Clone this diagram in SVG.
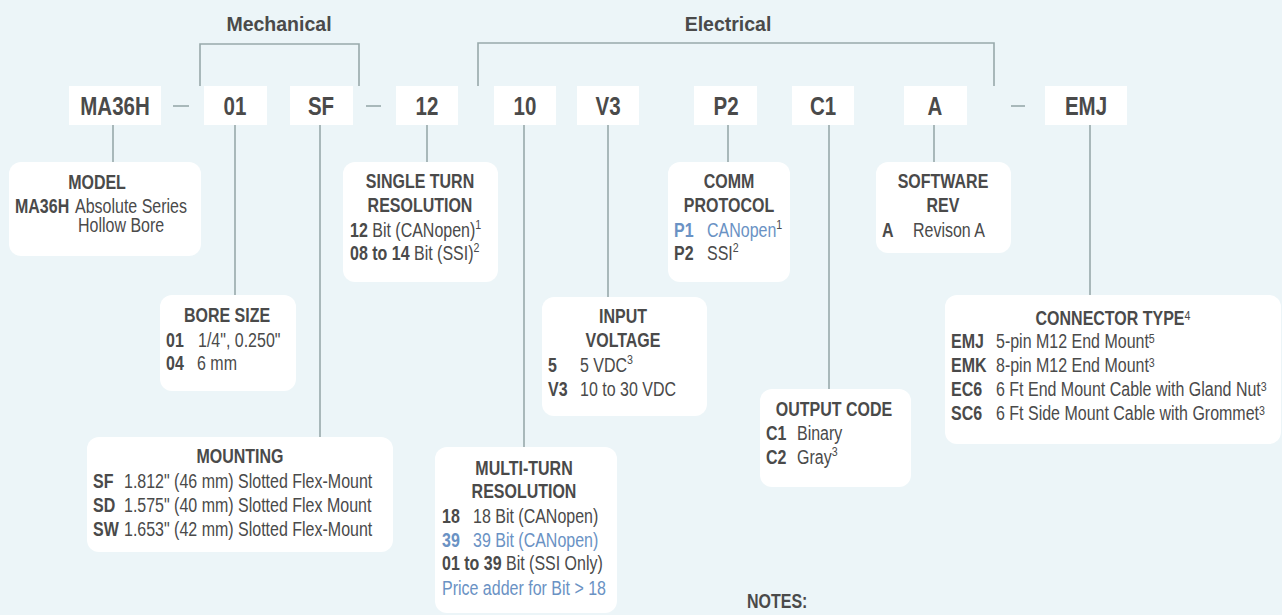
<svg xmlns="http://www.w3.org/2000/svg" width="1282" height="615" viewBox="0 0 1282 615">
<style>
text{font-family:"Liberation Sans",Arial,sans-serif;fill:#4a4a4a;font-size:19.5px}
.b{font-weight:bold}
.t{font-weight:bold;text-anchor:middle}
.code{font-weight:bold;font-size:25px;text-anchor:middle}
.sec{font-weight:bold;font-size:19.5px;text-anchor:middle}
.blue{fill:#6a92c4}
.sup{font-size:13px}
.box{fill:#ffffff}
.cbox{fill:#ffffff}
.ln{stroke:#98a9aa;stroke-width:1.6;fill:none}
</style>
<rect x="0" y="0" width="1282" height="615" fill="#ecf5f8"/>

<g id="connectors" class="ln">
  <polyline points="200,86 200,44 359,44 359,86"/>
  <polyline points="478,86 478,43 994,43 994,86"/>
  <line x1="173" y1="106" x2="189" y2="106"/>
  <line x1="366" y1="106" x2="381" y2="106"/>
  <line x1="1011" y1="106" x2="1025" y2="106"/>
  <line x1="113" y1="125" x2="113" y2="162"/>
  <line x1="235" y1="125" x2="235" y2="295"/>
  <line x1="320" y1="125" x2="320" y2="437"/>
  <line x1="427" y1="125" x2="427" y2="162"/>
  <line x1="524" y1="125" x2="524" y2="447"/>
  <line x1="608" y1="125" x2="608" y2="297"/>
  <line x1="728" y1="125" x2="728" y2="162"/>
  <line x1="829" y1="125" x2="829" y2="389"/>
  <line x1="934" y1="125" x2="934" y2="162"/>
  <line x1="1090" y1="125" x2="1090" y2="295"/>
</g>

<g id="labels">
  <text class="sec" x="279" y="31">Mechanical</text>
  <text class="sec" x="728" y="31">Electrical</text>
</g>

<g id="codes">
  <g id="code-ma36h"><rect class="cbox" x="69" y="86" width="92" height="39"/><text class="code" transform="translate(115,115) scale(.82,1)">MA36H</text></g>
  <g id="code-01"><rect class="cbox" x="204" y="86" width="63" height="39"/><text class="code" transform="translate(235,115) scale(.82,1)">01</text></g>
  <g id="code-sf"><rect class="cbox" x="290" y="86" width="63" height="39"/><text class="code" transform="translate(321,115) scale(.82,1)">SF</text></g>
  <g id="code-12"><rect class="cbox" x="396" y="86" width="62" height="39"/><text class="code" transform="translate(427,115) scale(.82,1)">12</text></g>
  <g id="code-10"><rect class="cbox" x="494" y="86" width="62" height="39"/><text class="code" transform="translate(525,115) scale(.82,1)">10</text></g>
  <g id="code-v3"><rect class="cbox" x="577" y="86" width="62" height="39"/><text class="code" transform="translate(608,115) scale(.82,1)">V3</text></g>
  <g id="code-p2"><rect class="cbox" x="694" y="86" width="63" height="39"/><text class="code" transform="translate(726,115) scale(.82,1)">P2</text></g>
  <g id="code-c1"><rect class="cbox" x="792" y="86" width="62" height="39"/><text class="code" transform="translate(823,115) scale(.82,1)">C1</text></g>
  <g id="code-a"><rect class="cbox" x="904" y="86" width="63" height="39"/><text class="code" transform="translate(935,115) scale(.82,1)">A</text></g>
  <g id="code-emj"><rect class="cbox" x="1045" y="86" width="82" height="39"/><text class="code" transform="translate(1086,115) scale(.82,1)">EMJ</text></g>
</g>

<g id="model">
  <rect class="box" x="9" y="162" width="192" height="94" rx="12"/>
  <text class="t" transform="translate(97,189) scale(.82,1)">MODEL</text>
  <text class="b" transform="translate(15,213) scale(.82,1)">MA36H</text>
  <text transform="translate(75,213) scale(.82,1)">Absolute Series</text>
  <text transform="translate(78,232) scale(.82,1)">Hollow Bore</text>
</g>

<g id="bore-size">
  <rect class="box" x="160" y="295" width="136" height="96" rx="12"/>
  <text class="t" transform="translate(227,322) scale(.82,1)">BORE SIZE</text>
  <text class="b" transform="translate(166,347) scale(.82,1)">01</text><text transform="translate(198,347) scale(.82,1)">1/4", 0.250"</text>
  <text class="b" transform="translate(166,370) scale(.82,1)">04</text><text transform="translate(197,370) scale(.82,1)">6 mm</text>
</g>

<g id="mounting">
  <rect class="box" x="87" y="437" width="306" height="115" rx="12"/>
  <text class="t" transform="translate(240,463) scale(.82,1)">MOUNTING</text>
  <text class="b" transform="translate(93,488) scale(.82,1)">SF</text><text transform="translate(124,488) scale(.82,1)">1.812" (46 mm) Slotted Flex-Mount</text>
  <text class="b" transform="translate(93,512) scale(.82,1)">SD</text><text transform="translate(124,512) scale(.82,1)">1.575" (40 mm) Slotted Flex Mount</text>
  <text class="b" transform="translate(93,536) scale(.82,1)">SW</text><text transform="translate(124,536) scale(.82,1)">1.653" (42 mm) Slotted Flex-Mount</text>
</g>

<g id="single-turn">
  <rect class="box" x="343" y="162" width="155" height="120" rx="12"/>
  <text class="t" transform="translate(420,188) scale(.82,1)">SINGLE TURN</text>
  <text class="t" transform="translate(420,212) scale(.82,1)">RESOLUTION</text>
  <text transform="translate(350,237) scale(.82,1)"><tspan class="b">12</tspan> Bit (CANopen)<tspan class="sup" dy="-8">1</tspan></text>
  <text transform="translate(350,260) scale(.82,1)"><tspan class="b">08 to 14</tspan> Bit (SSI)<tspan class="sup" dy="-8">2</tspan></text>
</g>

<g id="multi-turn">
  <rect class="box" x="435" y="447" width="182" height="166" rx="12"/>
  <text class="t" transform="translate(524,475) scale(.82,1)">MULTI-TURN</text>
  <text class="t" transform="translate(524,498) scale(.82,1)">RESOLUTION</text>
  <text class="b" transform="translate(442,523) scale(.82,1)">18</text><text transform="translate(473,523) scale(.82,1)">18 Bit (CANopen)</text>
  <text class="b blue" transform="translate(442,547) scale(.82,1)">39</text><text class="blue" transform="translate(473,547) scale(.82,1)">39 Bit (CANopen)</text>
  <text transform="translate(442,570) scale(.82,1)"><tspan class="b">01 to 39</tspan> Bit (SSI Only)</text>
  <text class="blue" transform="translate(442,595) scale(.82,1)">Price adder for Bit &gt; 18</text>
</g>

<g id="input-voltage">
  <rect class="box" x="542" y="297" width="165" height="119" rx="12"/>
  <text class="t" transform="translate(623,323) scale(.82,1)">INPUT</text>
  <text class="t" transform="translate(623,347) scale(.82,1)">VOLTAGE</text>
  <text class="b" transform="translate(548,372) scale(.82,1)">5</text><text transform="translate(580,372) scale(.82,1)">5 VDC<tspan class="sup" dy="-8">3</tspan></text>
  <text class="b" transform="translate(548,396) scale(.82,1)">V3</text><text transform="translate(580,396) scale(.82,1)">10 to 30 VDC</text>
</g>

<g id="comm-protocol">
  <rect class="box" x="668" y="162" width="122" height="120" rx="12"/>
  <text class="t" transform="translate(729,188) scale(.82,1)">COMM</text>
  <text class="t" transform="translate(729,212) scale(.82,1)">PROTOCOL</text>
  <text class="b blue" transform="translate(674,237) scale(.82,1)">P1</text><text transform="translate(707,237) scale(.82,1)"><tspan class="blue">CANopen</tspan><tspan class="sup" dy="-8">1</tspan></text>
  <text class="b" transform="translate(674,260) scale(.82,1)">P2</text><text transform="translate(707,260) scale(.82,1)">SSI<tspan class="sup" dy="-8">2</tspan></text>
</g>

<g id="output-code">
  <rect class="box" x="760" y="389" width="151" height="98" rx="12"/>
  <text class="t" transform="translate(834,416) scale(.82,1)">OUTPUT CODE</text>
  <text class="b" transform="translate(766,440) scale(.82,1)">C1</text><text transform="translate(797,440) scale(.82,1)">Binary</text>
  <text class="b" transform="translate(766,464) scale(.82,1)">C2</text><text transform="translate(797,464) scale(.82,1)">Gray<tspan class="sup" dy="-8">3</tspan></text>
</g>

<g id="software-rev">
  <rect class="box" x="876" y="162" width="135" height="91" rx="12"/>
  <text class="t" transform="translate(943,188) scale(.82,1)">SOFTWARE</text>
  <text class="t" transform="translate(943,212) scale(.82,1)">REV</text>
  <text class="b" transform="translate(882,237) scale(.82,1)">A</text><text transform="translate(913,237) scale(.82,1)">Revison A</text>
</g>

<g id="connector-type">
  <rect class="box" x="945" y="295" width="336" height="149" rx="12"/>
  <text class="t" transform="translate(1113,325) scale(.82,1)">CONNECTOR TYPE<tspan class="sup" font-weight="normal" dy="-5">4</tspan></text>
  <text class="b" transform="translate(951,348) scale(.82,1)">EMJ</text><text transform="translate(996,348) scale(.82,1)">5-pin M12 End Mount<tspan class="sup" dy="-5">5</tspan></text>
  <text class="b" transform="translate(951,372) scale(.82,1)">EMK</text><text transform="translate(996,372) scale(.82,1)">8-pin M12 End Mount<tspan class="sup" dy="-5">3</tspan></text>
  <text class="b" transform="translate(951,396) scale(.82,1)">EC6</text><text transform="translate(996,396) scale(.82,1)">6 Ft End Mount Cable with Gland Nut<tspan class="sup" dy="-5">3</tspan></text>
  <text class="b" transform="translate(951,420) scale(.82,1)">SC6</text><text transform="translate(996,420) scale(.82,1)">6 Ft Side Mount Cable with Grommet<tspan class="sup" dy="-5">3</tspan></text>
</g>

<g id="notes">
  <text class="b" font-size="18.5" transform="translate(747,608) scale(.82,1)">NOTES:</text>
</g>
</svg>
